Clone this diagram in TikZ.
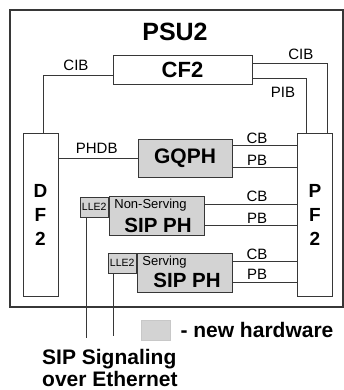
\documentclass[tikz,border=0pt]{standalone}
\usepackage{fontspec}
\setmainfont{Liberation Sans}
\usetikzlibrary{positioning}
\definecolor{LineGray}{RGB}{55,55,55}
\definecolor{HwFill}{RGB}{211,211,211}
\definecolor{KeyBorder}{RGB}{200,200,200}
\tikzset{
  link/.style={draw=LineGray, line width=0.8pt},
  lbl/.style={font=\fontsize{15}{15}\selectfont, inner sep=0pt},
  tag/.style={font=\fontsize{13}{13}\selectfont, inner sep=0pt},
  big/.style={font=\fontsize{21}{21}\selectfont\bfseries, inner sep=0pt},
  plainbox/.style={draw=LineGray, fill=white, line width=0.8pt, inner sep=0pt},
  hwbox/.style={draw=LineGray, fill=HwFill, line width=0.8pt, inner sep=0pt},
  sidebox/.style={plainbox, minimum width=35pt, minimum height=163pt, align=center,
                  font=\fontsize{19}{24}\selectfont\bfseries},
  phbox/.style={hwbox, minimum width=95pt, minimum height=39pt},
  llebox/.style={hwbox, minimum width=28pt, minimum height=20pt,
                 font=\fontsize{10.5}{10.5}\selectfont}
}

\begin{document}
\begin{tikzpicture}[x=1pt,y=1pt]
\useasboundingbox (0,0) rectangle (344,390);

% Outer frame
\draw[LineGray, line width=1.2pt] (10,83) rectangle (343,380);
\node[big, font=\fontsize{25}{25}\selectfont\bfseries] (psu) at (175,358) {PSU2};

% Side frames and CF2
\node[sidebox] (df) at (40.5,175.5) {D\\F\\2};
\node[sidebox] (pf) at (315,175.5) {P\\F\\2};
\node[plainbox, minimum width=139pt, minimum height=29pt,
      font=\fontsize{22}{22}\selectfont\bfseries] (cf) at (182.5,320.5) {CF2};

% New hardware boxes
\node[hwbox, minimum width=94pt, minimum height=38pt, big] (gq) at (185,232) {GQPH};
\node[phbox] (ns) at (156.5,174.5) {};
\node[tag] (nsname) at (150.5,185) {Non-Serving};
\node[big, font=\fontsize{20.5}{20.5}\selectfont\bfseries] (nsph) at (158,165) {SIP PH};
\node[llebox, anchor=north east] (lleA) at ([yshift=-1pt]ns.north west) {LLE2};

\node[phbox] (sv) at (184.5,117.5) {};
\node[tag] (svname) at (164.5,128) {Serving};
\node[big, font=\fontsize{20.5}{20.5}\selectfont\bfseries] (svph) at (187,110) {SIP PH};
\node[llebox, anchor=north east] (lleB) at (sv.north west) {LLE2};

% CF2 links
\draw[link] (cf.west |- 0,314.3) -| ([xshift=2.5pt]df.north);
\node[lbl] (cibl) at (76,325) {CIB};
\draw[link] (cf.east |- 0,326.7) -| ([xshift=12pt]pf.north);
\node[lbl] (cibr) at (300.8,335.5) {CIB};
\draw[link] (cf.east |- 0,312) -| ([xshift=-9pt]pf.north);
\node[lbl] (pib) at (283,297.5) {PIB};

% PHDB
\draw[link] (df.east |- gq.west) -- (gq.west);
\node[lbl] (phdb) at (96.7,241.5) {PHDB};

% CB / PB buses to PF2
\foreach \bx/\cb/\pb in {gq/244.3/222.3, ns/186/164.3, sv/128.3/107.7}{
  \draw[link] (\bx.east |- 0,\cb) -- (pf.west |- 0,\cb);
  \draw[link] (\bx.east |- 0,\pb) -- (pf.west |- 0,\pb);
  \node[lbl] (cb-\bx) at (257,\cb+7.7) {CB};
  \node[lbl] (pb-\bx) at (257,\pb+7.7) {PB};
}

% Ethernet drops
\coordinate (ethA) at (86,52);
\coordinate (ethB) at (113,54);
\draw[link] (ethA |- lleA.south) -- (ethA);
\draw[link] (ethB |- lleB.south) -- (ethB);

% Legend
\node[fill=HwFill, draw=KeyBorder, line width=0.6pt, minimum width=29pt,
      minimum height=20pt, inner sep=0pt] (key) at (155.5,60) {};
\node[big, right=10pt of key] (keytext) {- new hardware};
\node[big, anchor=north west, align=left, font=\fontsize{21}{21.5}\selectfont\bfseries]
  (sipnote) at (42,40.5) {SIP Signaling\\over Ethernet};

\end{tikzpicture}
\end{document}
